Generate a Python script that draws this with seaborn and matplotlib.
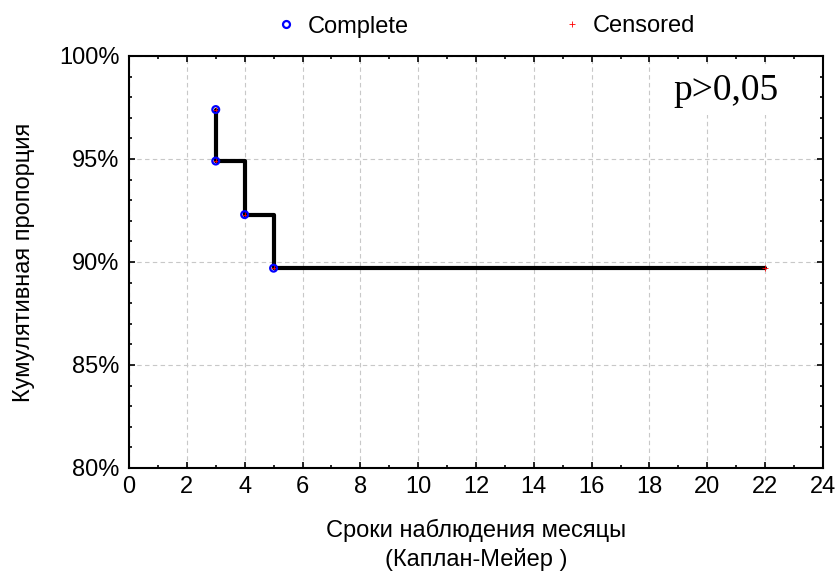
import numpy as np
import pandas as pd
import matplotlib
matplotlib.use("Agg")
import matplotlib.pyplot as plt
import seaborn as sns
from matplotlib.lines import Line2D
from matplotlib.ticker import MultipleLocator, PercentFormatter

# Kaplan-Meier data
event_times = [3, 3, 4, 5]
event_surv = [97.4, 94.9, 92.3, 89.7]
censor_times = [3, 3, 4, 5, 22]
censor_surv = [97.4, 94.9, 92.3, 89.7, 89.7]
step_times = [3, 3, 4, 5, 22]
step_surv = [97.4, 94.9, 92.3, 89.7, 89.7]

sns.set_style("white")
plt.rcParams["font.family"] = ["Liberation Sans", "DejaVu Sans"]
plt.rcParams["text.color"] = "black"
plt.rcParams["axes.labelcolor"] = "black"

fig = plt.figure(figsize=(8.37, 5.75), dpi=100)
ax = fig.add_axes([129 / 837, 1 - 468 / 575, 694 / 837, 412 / 575])

steps = pd.DataFrame({"t": step_times, "s": step_surv})
sns.lineplot(data=steps, x="t", y="s", ax=ax, color="black", linewidth=3,
             drawstyle="steps-post", sort=False, estimator=None, zorder=3)

comp = pd.DataFrame({"t": event_times, "s": event_surv})
sns.scatterplot(data=comp, x="t", y="s", ax=ax, marker="o", s=24,
                facecolor="none", edgecolor="blue", linewidth=1.6, zorder=5)
cens = pd.DataFrame({"t": censor_times, "s": censor_surv})
sns.scatterplot(data=cens, x="t", y="s", ax=ax, marker="+", s=14,
                color="red", linewidth=0.6, zorder=4)

ax.set_xlim(0, 24)
ax.set_ylim(80, 100)
ax.xaxis.set_major_locator(MultipleLocator(2))
ax.xaxis.set_minor_locator(MultipleLocator(1))
ax.yaxis.set_major_locator(MultipleLocator(5))
ax.yaxis.set_minor_locator(MultipleLocator(1))
ax.yaxis.set_major_formatter(PercentFormatter(decimals=0))
ax.tick_params(which="both", direction="in", labelsize=17, colors="black",
               bottom=True, left=True, top=True, right=True)
ax.tick_params(which="major", length=4, width=1.2)
ax.tick_params(which="minor", length=2.5, width=1.2)
ax.tick_params(axis="x", pad=6)
ax.tick_params(axis="y", pad=7)
ax.grid(True, which="major", linestyle=(0, (4, 3)), color="#c8c8c8", linewidth=0.8)
for sp in ax.spines.values():
    sp.set_color("black")
    sp.set_linewidth(1.5)

ax.set_xlabel("Сроки наблюдения месяцы\n(Каплан-Мейер )", fontsize=17, labelpad=15,
              linespacing=1.3)
ax.set_ylabel("Кумулятивная пропорция", fontsize=17, labelpad=17)

ax.text(20.65, 98.3, "p>0,05", fontsize=27, family="Liberation Serif",
        ha="center", va="center", zorder=6,
        bbox=dict(facecolor="white", edgecolor="none", pad=5))

handles = [
    Line2D([], [], marker="o", linestyle="none", markerfacecolor="none",
           markeredgecolor="blue", markeredgewidth=1.6, markersize=5),
    Line2D([], [], marker="+", linestyle="none", color="red",
           markeredgewidth=0.6, markersize=5),
]
fig.legend(handles, ["Complete", "Censored"], loc="upper center",
           bbox_to_anchor=(486 / 837, 1.01), ncol=2, frameon=False,
           fontsize=17, columnspacing=6.5, handletextpad=0.5, handlelength=0.8)

fig.savefig("out.png", dpi=100)
